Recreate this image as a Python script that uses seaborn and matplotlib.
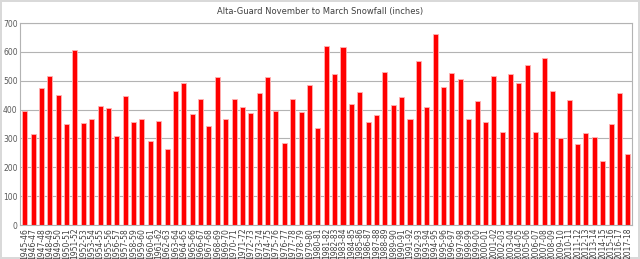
import matplotlib
matplotlib.use("Agg")
import matplotlib.pyplot as plt
import seaborn as sns
import pandas as pd

start_years = list(range(1945, 2018))
seasons = [f"{y}-{(y + 1) % 100:02d}" for y in start_years]
snowfall = [394, 314, 475, 517, 452, 349, 605, 354, 368, 413, 405, 309, 447, 356,
            367, 290, 359, 264, 465, 494, 384, 436, 345, 514, 367, 438, 409, 387,
            459, 514, 395, 283, 436, 393, 484, 338, 622, 523, 616, 421, 461, 356,
            380, 529, 416, 444, 367, 567, 408, 662, 480, 528, 505, 368, 429, 356,
            517, 323, 525, 493, 556, 323, 579, 463, 302, 433, 280, 320, 305, 221,
            351, 456, 246]
y_ticks = [0, 100, 200, 300, 400, 500, 600, 700]
title = "Alta-Guard November to March Snowfall (inches)"

df = pd.DataFrame({"season": seasons, "snowfall": snowfall})

sns.set_style("white")
plt.rcParams['font.family'] = ['DejaVu Sans']

fig = plt.figure(figsize=(6.4, 2.59), dpi=100)
fig.patch.set_edgecolor('#d9d9d9')
fig.patch.set_linewidth(1.5)
ax = fig.add_axes([0.032, 0.131, 0.9555, 0.78])

sns.barplot(data=df, x="season", y="snowfall", color="#ff0000", saturation=1,
            width=0.6, edgecolor="#ffb3b3", linewidth=0.6, ax=ax)

ax.set_ylim(0, 700)
ax.set_xlim(-0.5, len(seasons) - 0.5)
ax.set_yticks(y_ticks)
ax.set_yticklabels([str(v) for v in y_ticks], fontsize=5.5, color='#595959')
ax.tick_params(axis='x', labelrotation=90, labelsize=5.5, labelcolor='#404040', length=0, pad=2)
ax.tick_params(axis='y', length=0, pad=2)
ax.set_xlabel("")
ax.set_ylabel("")
ax.yaxis.grid(True, color='#b3b3b3', linewidth=0.8)
ax.set_axisbelow(True)
for side in ['top', 'right', 'left', 'bottom']:
    ax.spines[side].set_visible(True)
    ax.spines[side].set_color('#b3b3b3')
    ax.spines[side].set_linewidth(0.8)

fig.text(0.5, 0.955, title, ha='center', va='center', fontsize=6, color='#404040')

fig.savefig("out.png", dpi=100)
